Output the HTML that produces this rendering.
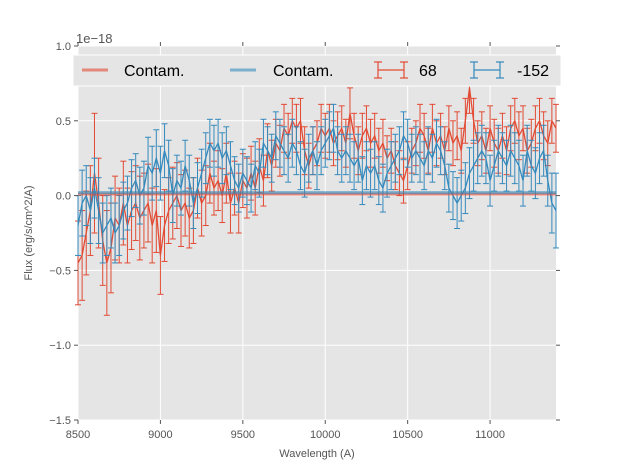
<!DOCTYPE html>
<html><head><meta charset="utf-8"><style>
html,body{margin:0;padding:0;background:#fff;width:617px;height:467px;overflow:hidden}
svg{display:block;font-family:"Liberation Sans","DejaVu Sans",sans-serif}
</style></head><body>
<svg id="chart" width="617" height="467" viewBox="0 0 617 467">
<rect x="78" y="46" width="478" height="374" fill="#e5e5e5"/>
<g id="grid"></g><g id="series"></g><g id="axes"></g>
<text x="76" y="43" font-size="13" fill="#555">1e−18</text>
<text x="32" y="233" font-size="11" fill="#555" text-anchor="middle" transform="rotate(-90 32 233)">Flux (erg/s/cm^2/A)</text>
<text x="317" y="457" font-size="11" fill="#555" text-anchor="middle">Wavelength (A)</text>
<g>
<rect x="73" y="55" width="488" height="31" fill="#e5e5e5" stroke="#fff" stroke-width="1"/>
<g><line x1="82" y1="70" x2="108" y2="70" stroke="#E24A33" stroke-opacity="0.6" stroke-width="3"/><text x="124" y="76" font-size="16" fill="#000">Contam.</text></g>
<g><line x1="230" y1="70" x2="256" y2="70" stroke="#348ABD" stroke-opacity="0.6" stroke-width="3"/><text x="273" y="76" font-size="16" fill="#000">Contam.</text></g>
<g stroke="#E24A33" stroke-width="1.2"><line x1="378" y1="70" x2="404" y2="70"/><line x1="378" y1="62" x2="378" y2="78"/><line x1="404" y1="62" x2="404" y2="78"/><line x1="374" y1="62" x2="382" y2="62"/><line x1="374" y1="78" x2="382" y2="78"/><line x1="400" y1="62" x2="408" y2="62"/><line x1="400" y1="78" x2="408" y2="78"/><text x="419" y="76" font-size="16" fill="#000" stroke="none">68</text></g>
<g stroke="#348ABD" stroke-width="1.2"><line x1="474" y1="70" x2="500" y2="70"/><line x1="474" y1="62" x2="474" y2="78"/><line x1="500" y1="62" x2="500" y2="78"/><line x1="470" y1="62" x2="478" y2="62"/><line x1="470" y1="78" x2="478" y2="78"/><line x1="496" y1="62" x2="504" y2="62"/><line x1="496" y1="78" x2="504" y2="78"/><text x="517" y="76" font-size="16" fill="#000" stroke="none">-152</text></g>
</g>
</svg>
<script>
const wlStart = 8500, wlStep = 25;
const redFlux = [-0.45,-0.4,-0.25,-0.1,0.15,-0.05,-0.3,-0.45,-0.35,-0.15,-0.2,-0.05,-0.2,-0.1,-0.05,-0.15,-0.1,-0.05,-0.2,-0.1,-0.4,-0.2,-0.1,-0.05,0.0,-0.1,-0.05,-0.15,-0.1,0.05,-0.05,0.0,0.15,0.05,0.1,0.0,0.15,-0.05,0.05,-0.05,0.1,0.05,0.15,0.05,0.2,0.1,0.3,0.2,0.35,0.3,0.45,0.4,0.5,0.45,0.5,0.3,0.2,0.3,0.35,0.45,0.4,0.45,0.35,0.4,0.45,0.35,0.55,0.4,0.3,0.4,0.45,0.35,0.4,0.3,0.35,0.25,0.3,0.2,0.15,0.1,0.2,0.3,0.35,0.45,0.4,0.3,0.45,0.35,0.4,0.3,0.45,0.35,0.4,0.3,0.5,0.72,0.5,0.35,0.4,0.3,0.45,0.35,0.3,0.4,0.3,0.45,0.5,0.4,0.45,0.3,0.35,0.45,0.5,0.4,0.35,0.5,0.45];
const redErr = [0.28,0.3,0.28,0.3,0.4,0.3,0.3,0.35,0.3,0.28,0.25,0.28,0.25,0.26,0.25,0.28,0.25,0.26,0.25,0.28,0.26,0.24,0.22,0.24,0.22,0.24,0.22,0.2,0.22,0.2,0.22,0.2,0.2,0.18,0.2,0.18,0.2,0.2,0.18,0.2,0.18,0.2,0.18,0.18,0.18,0.17,0.18,0.17,0.16,0.17,0.16,0.15,0.15,0.16,0.15,0.16,0.15,0.16,0.15,0.16,0.15,0.16,0.15,0.16,0.15,0.16,0.17,0.15,0.16,0.15,0.15,0.16,0.15,0.15,0.16,0.15,0.15,0.16,0.15,0.15,0.16,0.15,0.15,0.16,0.15,0.15,0.16,0.15,0.15,0.16,0.15,0.15,0.16,0.15,0.15,0.17,0.15,0.15,0.16,0.15,0.15,0.16,0.15,0.15,0.16,0.15,0.15,0.16,0.15,0.15,0.16,0.15,0.15,0.16,0.15,0.15,0.16];
const blueFlux = [-0.2,-0.05,0.0,-0.1,0.05,-0.1,-0.25,-0.2,-0.15,-0.25,-0.2,-0.1,-0.05,0.05,0.1,0.0,0.05,0.2,0.15,0.25,0.15,0.3,0.2,0.0,0.1,0.05,0.2,0.1,-0.05,0.05,0.15,0.25,0.35,0.3,0.35,0.25,0.3,0.2,0.1,0.05,0.15,0.1,0.05,0.2,0.15,0.35,0.3,0.25,0.4,0.35,0.3,0.25,0.35,0.3,0.2,0.15,0.25,0.3,0.2,0.3,0.35,0.4,0.45,0.3,0.25,0.3,0.25,0.2,0.25,0.1,0.2,0.15,0.2,0.1,0.05,0.15,0.2,0.25,0.3,0.4,0.35,0.25,0.3,0.25,0.2,0.3,0.25,0.35,0.3,0.2,0.05,0.0,-0.05,0.0,0.05,0.15,0.2,0.25,0.3,0.25,0.1,0.2,0.3,0.25,0.2,0.3,0.25,0.2,0.1,0.3,0.2,0.15,0.25,0.3,0.1,-0.05,-0.1];
const blueErr = [0.2,0.22,0.2,0.22,0.2,0.22,0.2,0.2,0.2,0.2,0.2,0.19,0.18,0.19,0.18,0.19,0.18,0.19,0.18,0.19,0.18,0.18,0.17,0.18,0.17,0.18,0.17,0.17,0.17,0.17,0.16,0.17,0.16,0.17,0.16,0.17,0.16,0.16,0.16,0.16,0.16,0.16,0.16,0.16,0.16,0.16,0.16,0.16,0.16,0.16,0.16,0.16,0.16,0.16,0.16,0.16,0.16,0.16,0.16,0.16,0.16,0.16,0.16,0.16,0.16,0.16,0.16,0.16,0.16,0.16,0.16,0.16,0.16,0.16,0.16,0.16,0.16,0.16,0.16,0.16,0.16,0.16,0.16,0.16,0.16,0.16,0.16,0.16,0.16,0.16,0.16,0.16,0.17,0.17,0.17,0.17,0.17,0.17,0.17,0.17,0.17,0.17,0.17,0.17,0.17,0.17,0.17,0.17,0.17,0.17,0.17,0.17,0.17,0.17,0.17,0.2,0.25];
const contamRed = [0.01,0.01];
const contamBlue = [0.02,0.02];
const xTicks = [8500,9000,9500,10000,10500,11000];
const xTickLabels = ["8500","9000","9500","10000","10500","11000"];
const yTicks = [1.0,0.5,0.0,-0.5,-1.0,-1.5];
const yTickLabels = ["1.0","0.5","0.0","\u22120.5","\u22121.0","\u22121.5"];
const xMin=8500,xMax=11400,yMin=-1.5,yMax=1.0,L=78,R=556,T=46,B=420;
const X=v=>L+(v-xMin)/(xMax-xMin)*(R-L);
const Y=v=>B-(v-yMin)/(yMax-yMin)*(B-T);
const NS="http://www.w3.org/2000/svg";
function mk(tag,attrs,parent){const e=document.createElementNS(NS,tag);for(const k in attrs)e.setAttribute(k,attrs[k]);parent.appendChild(e);return e;}
const grid=document.getElementById('grid'),axes=document.getElementById('axes'),ser=document.getElementById('series');
xTicks.forEach((t,i)=>{
 const g=mk('line',{x1:X(t),x2:X(t),y1:T,y2:B,stroke:'#fff','stroke-width':1},grid);
 
 
 mk('line',{x1:X(t),x2:X(t),y1:B,y2:B+4,stroke:'#555'},axes);
 mk('line',{x1:X(t),x2:X(t),y1:T,y2:T-4,stroke:'#555'},axes);
 const tx=mk('text',{x:X(t),y:B+18,'font-size':11,fill:'#555','text-anchor':'middle'},axes);
 tx.textContent=xTickLabels[i];
 
 
});
yTicks.forEach((t,i)=>{
 const g=mk('line',{x1:L,x2:R,y1:Y(t),y2:Y(t),stroke:'#fff','stroke-width':1},grid);
 
 
 mk('line',{x1:L-4,x2:L,y1:Y(t),y2:Y(t),stroke:'#555'},axes);
 mk('line',{x1:R,x2:R+4,y1:Y(t),y2:Y(t),stroke:'#555'},axes);
 const tx=mk('text',{x:L-7,y:Y(t)+4,'font-size':11,fill:'#555','text-anchor':'end'},axes);
 tx.textContent=yTickLabels[i];
 
 
});
function errSeries(flux,err,color,name){
 const g=mk('g',{},ser);
 
 
 let d='';
 flux.forEach((v,i)=>{
  const x=X(wlStart+i*wlStep);
  const e=err[i]||0.16;
  mk('line',{x1:x,x2:x,y1:Y(v-e),y2:Y(v+e),stroke:color,'stroke-width':1},g);
  mk('line',{x1:x-3,x2:x+3,y1:Y(v-e),y2:Y(v-e),stroke:color,'stroke-width':1},g);
  mk('line',{x1:x-3,x2:x+3,y1:Y(v+e),y2:Y(v+e),stroke:color,'stroke-width':1},g);
  d+=(i?'L':'M')+x.toFixed(1)+','+Y(v).toFixed(1);
 });
 mk('path',{d:d,fill:'none',stroke:color,'stroke-width':1.3},g);
}
errSeries(redFlux,redErr,'#E24A33','series-68');
errSeries(blueFlux,blueErr,'#348ABD','series-minus152');
[[contamRed,'#E24A33','contam-red-line'],[contamBlue,'#348ABD','contam-blue-line']].forEach(([arr,c,n])=>{
 const l=mk('line',{x1:X(xMin),x2:X(xMax),y1:Y(arr[0]),y2:Y(arr[1]),stroke:c,'stroke-opacity':0.6,'stroke-width':3},ser);
 
 
});
</script>
</body></html>
